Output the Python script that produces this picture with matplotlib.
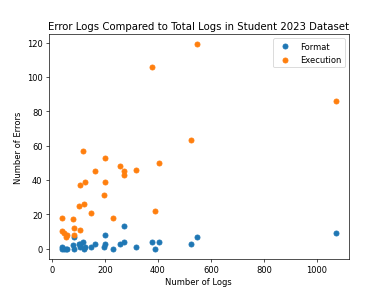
import matplotlib
matplotlib.use("Agg")
import matplotlib.pyplot as plt

# total logs per student and the error counts of each kind
total_logs = [39, 40, 45, 52, 56, 80, 82, 83, 104, 106, 108, 117, 123, 126, 148,
              162, 197, 200, 200, 229, 258, 272, 274, 316, 377, 389, 405, 526, 546, 1070]
format_errors = [1, 0, 0, 0, 0, 2, 0, 7, 3, 3, 1, 4, 0, 1, 1,
                 3, 1, 8, 3, 0, 3, 13, 4, 1, 4, 0, 4, 3, 7, 9]
execution_errors = [18, 10, 9, 7, 8, 17, 8, 12, 25, 37, 11, 57, 26, 39, 21,
                    45, 31, 53, 39, 18, 48, 43, 45, 46, 106, 22, 50, 63, 119, 86]

fig, ax = plt.subplots(figsize=(6.4, 4.815))
ax.scatter(total_logs, format_errors, label="Format")
ax.scatter(total_logs, execution_errors, label="Execution")

ax.set_title("Error Logs Compared to Total Logs in Student 2023 Dataset")
ax.set_xlabel("Number of Logs")
ax.set_ylabel("Number of Errors")
ax.legend()

fig.savefig("out.png", dpi=60.63)
